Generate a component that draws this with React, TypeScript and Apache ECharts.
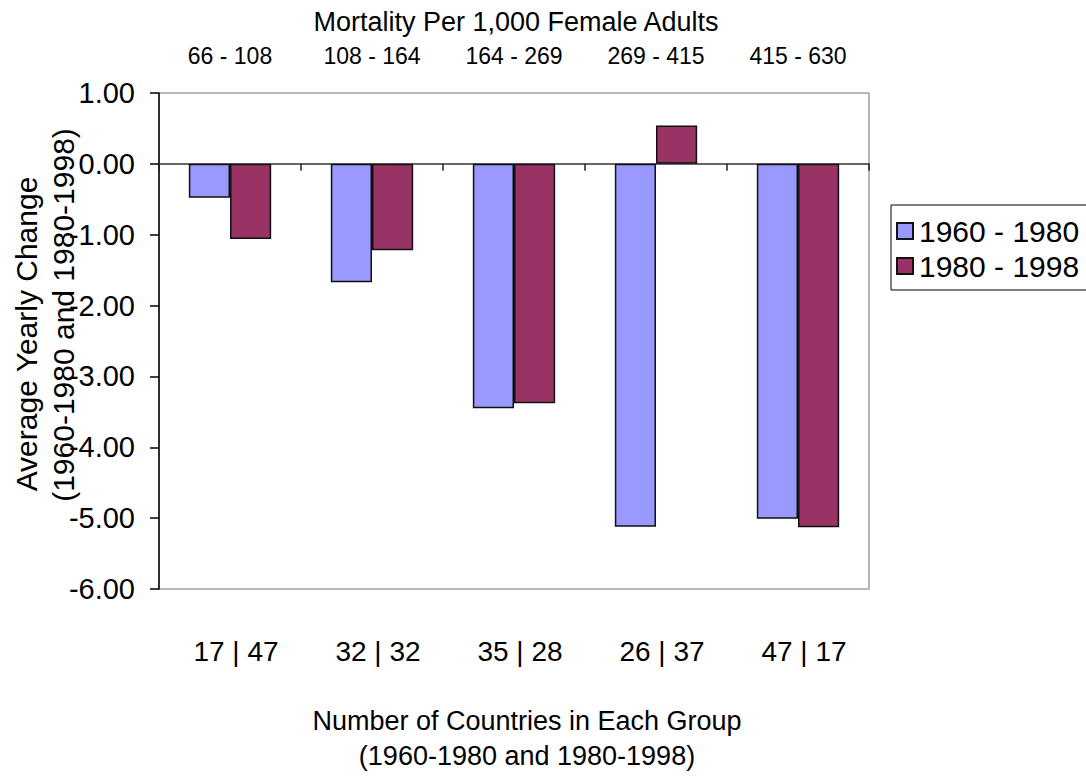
import React, { useEffect, useRef } from "react";
import * as echarts from "echarts";

const mortalityGroups = ["66 - 108", "108 - 164", "164 - 269", "269 - 415", "415 - 630"];
const countryCounts = ["17 | 47", "32 | 32", "35 | 28", "26 | 37", "47 | 17"];
const series1960 = [-0.48, -1.67, -3.45, -5.12, -5.01];
const series1980 = [-1.06, -1.22, -3.38, 0.54, -5.13];
const seriesNames = ["1960 - 1980", "1980 - 1998"];
const yTicks = { min: -6, max: 1, interval: 1 };

const FONT = "'Liberation Sans', Arial, sans-serif";

export default function App() {
  const ref = useRef<HTMLDivElement>(null);
  useEffect(() => {
    if (!ref.current) return;
    const chart = echarts.init(ref.current, null, { renderer: "svg" });
    const gridLeft = 159;
    const gridTop = 93;
    const gridWidth = 710;
    const gridHeight = 496;
    chart.setOption({
      animation: false,
      backgroundColor: "#ffffff",
      textStyle: { fontFamily: FONT },
      grid: {
        left: gridLeft,
        top: gridTop,
        width: gridWidth,
        height: gridHeight,
        show: true,
        borderColor: "#a0a0a0",
        borderWidth: 1.5,
        backgroundColor: "transparent",
      },
      legend: {
        orient: "vertical",
        left: 891,
        top: 205,
        data: seriesNames,
        icon: "rect",
        itemWidth: 16,
        itemHeight: 16,
        itemGap: 5,
        padding: [11, 20, 9, 5],
        borderColor: "#000",
        borderWidth: 1,
        textStyle: { fontSize: 30, color: "#000", fontFamily: FONT, padding: [0, 0, 0, 1] },
      },
      xAxis: [
        {
          type: "category",
          data: mortalityGroups,
          position: "bottom",
          axisLine: { onZero: true, lineStyle: { color: "#333", width: 1.5 } },
          axisTick: { show: true, length: 7, lineStyle: { color: "#222", width: 1.5 } },
          axisLabel: { show: false },
          splitLine: { show: false },
        },
        {
          type: "category",
          data: countryCounts,
          position: "bottom",
          axisLine: { show: false, onZero: false },
          axisTick: { show: false },
          axisLabel: {
            fontSize: 28,
            color: "#000",
            margin: 48,
            padding: [0, 0, 0, 12],
            fontFamily: FONT,
          },
        },
        {
          type: "category",
          data: mortalityGroups,
          position: "top",
          axisLine: { show: false, onZero: false },
          axisTick: { show: false },
          axisLabel: { fontSize: 23, color: "#000", margin: 26, fontFamily: FONT },
        },
      ],
      yAxis: {
        type: "value",
        min: yTicks.min,
        max: yTicks.max,
        interval: yTicks.interval,
        axisLine: { show: true, lineStyle: { color: "#000", width: 1.5 } },
        axisTick: { show: true, length: 9, lineStyle: { color: "#000", width: 1.5 } },
        splitLine: { show: false },
        axisLabel: {
          fontSize: 29,
          color: "#000",
          margin: 24,
          fontFamily: FONT,
          formatter: (v: number) => v.toFixed(2),
        },
      },
      series: [
        {
          name: seriesNames[0],
          type: "bar",
          data: series1960,
          barWidth: "29%",
          barGap: "0%",
          itemStyle: { color: "#9999FF", borderColor: "#111", borderWidth: 1.5 },
        },
        {
          name: seriesNames[1],
          type: "bar",
          data: series1980,
          barWidth: "29%",
          barGap: "0%",
          itemStyle: { color: "#993366", borderColor: "#111", borderWidth: 1.5 },
        },
      ],
      graphic: [
        {
          type: "text",
          x: 516,
          y: 22,
          style: {
            text: "Mortality Per 1,000 Female Adults",
            font: `27px ${FONT}`,
            fill: "#000",
            textAlign: "center",
            textVerticalAlign: "middle",
          },
        },
        {
          type: "text",
          x: 26,
          y: 334,
          rotation: Math.PI / 2,
          style: {
            text: "Average Yearly Change",
            font: `30px ${FONT}`,
            fill: "#000",
            textAlign: "center",
            textVerticalAlign: "middle",
          },
        },
        {
          type: "text",
          x: 63,
          y: 315,
          rotation: Math.PI / 2,
          style: {
            text: "(1960-1980 and 1980-1998)",
            font: `30px ${FONT}`,
            fill: "#000",
            textAlign: "center",
            textVerticalAlign: "middle",
          },
        },
        {
          type: "text",
          x: 527,
          y: 721,
          style: {
            text: "Number of Countries in Each Group",
            font: `27px ${FONT}`,
            fill: "#000",
            textAlign: "center",
            textVerticalAlign: "middle",
          },
        },
        {
          type: "text",
          x: 527,
          y: 756,
          style: {
            text: "(1960-1980 and 1980-1998)",
            font: `27px ${FONT}`,
            fill: "#000",
            textAlign: "center",
            textVerticalAlign: "middle",
          },
        },
      ],
    });
    return () => chart.dispose();
  }, []);
  return (
    <div
      ref={ref}
      style={{ position: "fixed", left: 0, top: 0, width: 1086, height: 779 }}
    />
  );
}
